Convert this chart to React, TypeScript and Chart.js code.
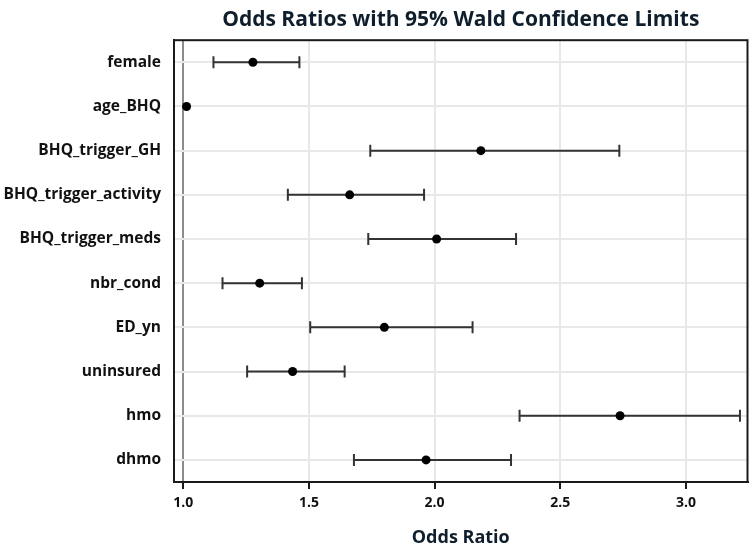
import React, { useEffect, useRef } from 'react';
import { Chart, registerables } from 'chart.js';

Chart.register(...registerables);

const CATEGORIES = [
  'female',
  'age_BHQ',
  'BHQ_trigger_GH',
  'BHQ_trigger_activity',
  'BHQ_trigger_meds',
  'nbr_cond',
  'ED_yn',
  'uninsured',
  'hmo',
  'dhmo',
];
const ODDS_RATIO = [1.277, 1.013, 2.184, 1.662, 2.008, 1.304, 1.8, 1.435, 2.738, 1.966];
const LOWER_CL = [1.12, 1.01, 1.744, 1.416, 1.736, 1.156, 1.505, 1.254, 2.338, 1.679];
const UPPER_CL = [1.462, 1.016, 2.735, 1.958, 2.324, 1.472, 2.151, 1.642, 3.215, 2.304];
const X_TICKS = [1.0, 1.5, 2.0, 2.5, 3.0];
const X_MIN = 0.963;
const X_MAX = 3.245;
const REF_VALUE = 1.0;

const TITLE = 'Odds Ratios with 95% Wald Confidence Limits';
const X_TITLE = 'Odds Ratio';
const FONT = '"Open Sans", "DejaVu Sans", sans-serif';
const NAVY = '#0f1e2c';

const errorBarPlugin = {
  id: 'errorBars',
  beforeDatasetsDraw(chart: any) {
    const { ctx, chartArea, scales } = chart;
    const xs = scales.x;
    const ys = scales.y;
    ctx.save();
    ctx.strokeStyle = '#1a1a1a';
    ctx.lineWidth = 2;
    ctx.strokeRect(chartArea.left, chartArea.top, chartArea.right - chartArea.left, chartArea.bottom - chartArea.top);
    ctx.strokeStyle = '#333333';
    ctx.lineWidth = 2;
    CATEGORIES.forEach((c, i) => {
      const y = ys.getPixelForValue(i);
      const x1 = xs.getPixelForValue(LOWER_CL[i]);
      const x2 = xs.getPixelForValue(UPPER_CL[i]);
      ctx.beginPath();
      ctx.moveTo(x1, y);
      ctx.lineTo(x2, y);
      ctx.stroke();
      if (x2 - x1 > 10) {
        ctx.beginPath();
        ctx.moveTo(x1, y - 6);
        ctx.lineTo(x1, y + 6);
        ctx.moveTo(x2, y - 6);
        ctx.lineTo(x2, y + 6);
        ctx.stroke();
      }
    });
    ctx.restore();
  },
};

export default function App() {
  const ref = useRef<HTMLCanvasElement | null>(null);

  useEffect(() => {
    document.body.style.margin = '0';
    const canvas = ref.current;
    if (!canvas) return;
    const chart = new Chart(canvas, {
      type: 'scatter',
      data: {
        datasets: [
          {
            label: 'Odds Ratio',
            data: CATEGORIES.map((c, i) => ({ x: ODDS_RATIO[i], y: c })) as any,
            backgroundColor: '#000000',
            borderColor: '#000000',
            pointRadius: 4.5,
            pointHoverRadius: 4.5,
            borderWidth: 0,
          },
        ],
      },
      options: {
        animation: false,
        responsive: true,
        maintainAspectRatio: false,
        layout: { padding: { left: 0, right: 2, top: 0, bottom: 0 } },
        plugins: {
          legend: { display: false },
          tooltip: { enabled: false },
          title: {
            display: true,
            text: TITLE,
            fullSize: false,
            color: NAVY,
            font: { family: FONT, size: 21, weight: 'bold' },
            padding: { top: 7, bottom: 8 },
          },
        },
        scales: {
          x: {
            type: 'linear',
            min: X_MIN,
            max: X_MAX,
            afterBuildTicks: (scale: any) => {
              scale.ticks = X_TICKS.map((v) => ({ value: v }));
            },
            afterFit: (scale: any) => {
              scale.height = 72;
            },
            grid: {
              color: (ctx: any) => (ctx.tick && ctx.tick.value === REF_VALUE ? '#8c8c8c' : '#e8e8e8'),
              lineWidth: 2,
              tickColor: '#1a1a1a',
              tickLength: 7,
              drawTicks: true,
            },
            border: { display: true, color: '#1a1a1a', width: 2 },
            ticks: {
              color: '#111111',
              font: { family: FONT, size: 14, weight: 'bold' },
              padding: 6,
              maxRotation: 0,
              callback: (v: any) => Number(v).toFixed(1),
            },
            title: {
              display: true,
              text: X_TITLE,
              color: NAVY,
              font: { family: FONT, size: 18, weight: 'bold' },
              padding: { top: 0, bottom: 5 },
            },
          },
          y: {
            type: 'category',
            labels: CATEGORIES,
            offset: true,
            afterFit: (scale: any) => {
              scale.width = 174;
            },
            grid: {
              color: '#e8e8e8',
              lineWidth: 2,
              drawTicks: false,
              offset: false,
            },
            border: { display: true, color: '#1a1a1a', width: 2 },
            ticks: {
              color: '#111111',
              font: { family: FONT, size: 15.5, weight: 'bold' },
              padding: 13,
            },
          },
        },
      },
      plugins: [errorBarPlugin],
    });
    return () => chart.destroy();
  }, []);

  return (
    <div style={{ width: 752, height: 554, position: 'relative' }}>
      <canvas ref={ref} />
    </div>
  );
}
